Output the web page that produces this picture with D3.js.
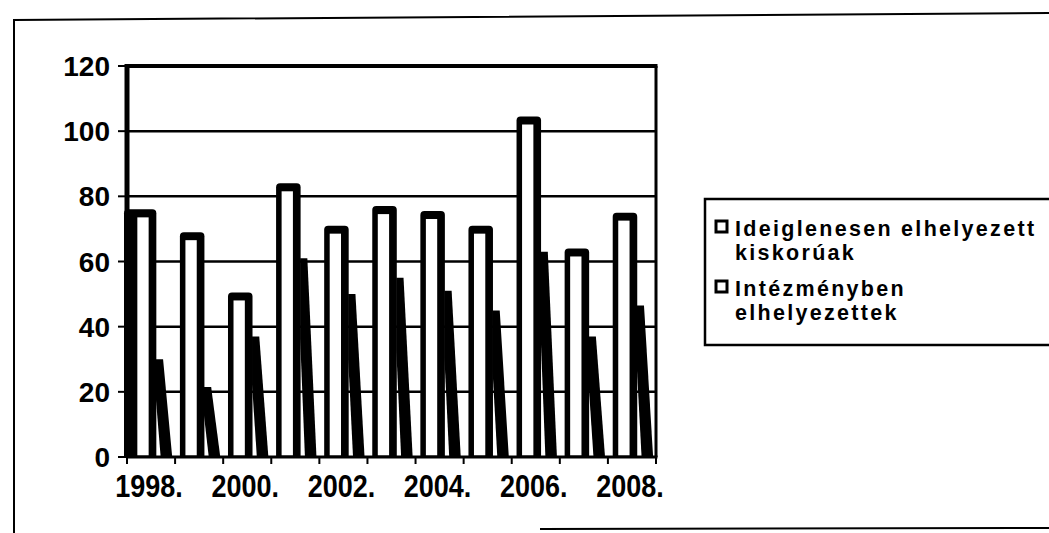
<!DOCTYPE html>
<html>
<head>
<meta charset="utf-8">
<script src="https://cdn.jsdelivr.net/npm/d3@7/dist/d3.min.js"></script>
<style>
  html, body { margin: 0; padding: 0; background: #fff; }
  svg { display: block; }
  text { font-family: "Liberation Sans", Arial, sans-serif; font-weight: bold; fill: #000; }
</style>
</head>
<body>
<svg id="chart" width="1049" height="533"></svg>
<script>
// ---- data ----
const years = ["1998.", "1999.", "2000.", "2001.", "2002.", "2003.", "2004.", "2005.", "2006.", "2007.", "2008."];
const tickLabelYears = ["1998.", "2000.", "2002.", "2004.", "2006.", "2008."];
const ideiglenesen = [76, 69, 50.5, 84, 71, 77, 75.5, 71, 104.5, 64, 75];
const intezmenyben = [30, 21.5, 37, 61, 50, 55, 51, 45, 63, 37, 46.5];
const yTicks = [0, 20, 40, 60, 80, 100, 120];
const legendItems = [
  ["Ideiglenesen elhelyezett", "kiskorúak"],
  ["Intézményben", "elhelyezettek"]
];

// ---- layout ----
const svg = d3.select("#chart");
const plot = { left: 127, right: 656, top: 66, bottom: 457 };

const x = d3.scaleBand().domain(years).range([plot.left, plot.right]).paddingInner(0).paddingOuter(0);
const y = d3.scaleLinear().domain([0, 120]).range([plot.bottom, plot.top]);
const bw = x.bandwidth();

// outer frame (scan border)
svg.append("path")
  .attr("d", "M14,533 L14,20 L1049,13")
  .attr("fill", "none").attr("stroke", "#000").attr("stroke-width", 2);
svg.append("path")
  .attr("d", "M540,529 L1049,528")
  .attr("fill", "none").attr("stroke", "#000").attr("stroke-width", 2);

// gridlines
svg.append("g").selectAll("line")
  .data(yTicks.filter(d => d > 0 && d < 120))
  .join("line")
  .attr("x1", plot.left).attr("x2", plot.right)
  .attr("y1", d => y(d)).attr("y2", d => y(d))
  .attr("stroke", "#000").attr("stroke-width", 2.5);

// top and right border of plot area
svg.append("line").attr("x1", plot.left - 2).attr("x2", plot.right + 1.5)
  .attr("y1", y(120)).attr("y2", y(120)).attr("stroke", "#000").attr("stroke-width", 4);
svg.append("line").attr("x1", plot.right).attr("x2", plot.right)
  .attr("y1", y(120)).attr("y2", y(0)).attr("stroke", "#000").attr("stroke-width", 3);

// bars
const base = y(0);
const gBars = svg.append("g");
years.forEach((yr, i) => {
  const c = x(yr);
  // series 1: white column with heavy black outline
  const top1 = y(ideiglenesen[i]);
  const oL = i === 0 ? plot.left - 3 : c + 0.1 * bw;
  const oR = c + 0.61 * bw;
  const r = 4;
  gBars.append("path")
    .attr("d", `M${oL},${base} V${top1 + r} Q${oL},${top1} ${oL + r},${top1} H${oR - r} Q${oR},${top1} ${oR},${top1 + r} V${base} Z`)
    .attr("fill", "#000");
  const iL = c + 0.215 * bw, iR = c + 0.45 * bw;
  gBars.append("rect")
    .attr("x", iL).attr("y", top1 + 8)
    .attr("width", iR - iL).attr("height", base - 1.5 - (top1 + 8))
    .attr("fill", "#fff");

  // series 2: heavy black slanted band, opening a white slit near its foot
  const top2 = y(intezmenyben[i]);
  const h = base - top2;
  const l2 = oR - 0.5;
  const tr = c + 0.75 * bw, br = c + 0.94 * bw, bl = c + 0.7 * bw;
  gBars.append("path")
    .attr("d", `M${l2},${top2} L${tr},${top2} L${br},${base} L${bl},${base} L${l2},${top2 + 0.4 * h} Z`)
    .attr("fill", "#000");
});

// y axis (heavy)
svg.append("line").attr("x1", plot.left).attr("x2", plot.left)
  .attr("y1", y(120) - 2).attr("y2", base + 1).attr("stroke", "#000").attr("stroke-width", 5);
// x baseline
svg.append("line").attr("x1", plot.left).attr("x2", plot.right + 1.5)
  .attr("y1", base).attr("y2", base).attr("stroke", "#000").attr("stroke-width", 3);

// y ticks & labels
const gy = svg.append("g");
gy.selectAll("line").data(yTicks).join("line")
  .attr("x1", plot.left - 9).attr("x2", plot.left)
  .attr("y1", d => y(d)).attr("y2", d => y(d))
  .attr("stroke", "#000").attr("stroke-width", 2);
gy.selectAll("text").data(yTicks).join("text")
  .attr("x", 110).attr("y", d => y(d)).attr("dy", "0.36em")
  .attr("text-anchor", "end").attr("font-size", 28)
  .text(d => d);

// x ticks at band boundaries
const bounds = years.map(d => x(d)).concat([plot.right]);
svg.append("g").selectAll("line").data(bounds).join("line")
  .attr("x1", d => d).attr("x2", d => d)
  .attr("y1", base).attr("y2", base + 7)
  .attr("stroke", "#000").attr("stroke-width", 2);

// x labels
svg.append("g").selectAll("text").data(tickLabelYears).join("text")
  .attr("transform", d => `translate(${x(d) + bw / 2 - 2},${497}) scale(1,1.15)`)
  .attr("text-anchor", "middle").attr("font-size", 27)
  .text(d => d);

// legend
const lg = svg.append("g");
lg.append("path")
  .attr("d", "M1049,199 L705,199 L705,345 L1049,345")
  .attr("fill", "none").attr("stroke", "#000").attr("stroke-width", 2.5);
legendItems.forEach((lines, k) => {
  const top = 221 + k * 60;
  lg.append("rect").attr("x", 716).attr("y", top).attr("width", 11).attr("height", 11)
    .attr("fill", "#fff").attr("stroke", "#000").attr("stroke-width", 3);
  lines.forEach((t, j) => {
    lg.append("text").attr("x", 735).attr("y", top + 15 + j * 24)
      .attr("font-size", 21.5).attr("letter-spacing", 2.3)
      .text(t);
  });
});
</script>
</body>
</html>
